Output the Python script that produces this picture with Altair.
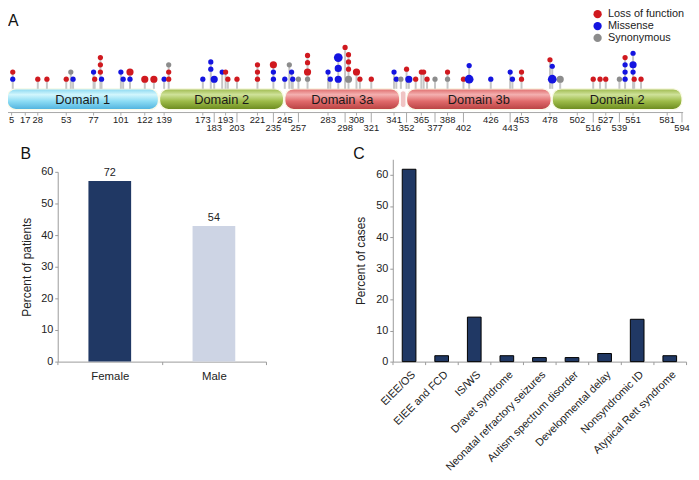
import altair as alt
import pandas as pd

# ---------------- Panel A: protein domains and variants ----------------
dom_name = ["Domain 1", "Domain 2", "Domain 3a", "Domain 3b", "Domain 2"]
dom_start = [1, 135, 245, 352, 480]
dom_end = [134, 244, 346, 479, 594]
dom_kind = ["d1", "d2", "d3", "d3", "d2"]
link_start = [346.5]
link_end = [351.5]

tick_upper = [5, 17, 28, 53, 77, 101, 122, 139, 173, 193, 221, 245, 283, 308, 341,
              365, 388, 426, 453, 478, 502, 527, 551, 581]
tick_lower = [183, 203, 235, 257, 298, 321, 352, 377, 402, 443, 516, 539, 594]

mut_pos = [6, 6, 28, 36, 53, 57, 59, 77, 78, 83, 83, 83, 84, 101, 103, 109, 109, 122, 130, 139,
           143, 143, 143, 173, 180, 180, 183, 190, 193, 195, 203, 221, 221, 221, 235, 235, 235, 245, 249, 251,
           252, 257, 265, 265, 265, 265, 283, 285, 292, 292, 292, 298, 301, 301, 301, 301, 308, 311, 321, 341,
           343, 347, 352, 354, 360, 365, 367, 370, 377, 388, 388, 402, 407, 407, 426, 443, 445, 453, 453, 478,
           480, 480, 487, 516, 522, 527, 539, 544, 544, 544, 544, 551, 551, 551, 552, 558]
mut_level = [1, 2, 1, 1, 1, 2, 1, 2, 1, 2, 3, 4, 1, 2, 1, 1, 2, 1, 1, 1,
             1, 2, 3, 1, 2.4, 3.4, 1, 2, 2, 1, 1, 1, 2, 3, 1, 2, 3, 1, 3, 2,
             1, 1, 1, 2, 3.3, 4.3, 2, 1, 1, 2.5, 4, 5.4, 1, 2.4, 3.4, 4.4, 2, 1, 1, 2,
             1, 1, 2.4, 1, 1, 2, 2, 1, 1, 1, 2, 1, 1, 2.9, 1, 2, 1, 1, 2, 3.7,
             1, 2.8, 1, 1, 1, 1, 1, 1, 2, 3, 4, 2, 3, 4.6, 1, 1]
mut_type = ["M", "L", "L", "L", "L", "S", "M", "M", "L", "L", "L", "L", "M", "M", "M", "M", "L", "L", "L", "M",
            "L", "L", "S", "M", "M", "M", "M", "M", "L", "L", "L", "L", "L", "L", "M", "M", "L", "M", "S", "M",
            "M", "S", "S", "L", "L", "L", "M", "M", "M", "M", "M", "L", "S", "L", "L", "L", "L", "L", "L", "M",
            "M", "S", "L", "M", "L", "L", "L", "L", "S", "S", "L", "L", "M", "M", "M", "M", "M", "L", "L", "L",
            "M", "M", "S", "L", "L", "L", "S", "M", "M", "M", "L", "M", "M", "M", "L", "L"]
mut_n = [1, 1, 1, 1, 1, 1, 1, 1, 1, 1, 1, 1, 1, 1, 1, 1, 2, 2, 2, 1,
         1, 1, 1, 1, 1, 1, 2, 1, 1, 1, 1, 1, 1, 1, 1, 1, 2, 1, 1, 1,
         1, 1, 1, 2, 1, 1, 1, 1, 2, 2, 3, 1, 2, 1, 1, 1, 2, 1, 1, 1,
         1, 1, 1, 2, 1, 1, 1, 1, 1, 1, 1, 1, 3, 1, 1, 1, 1, 1, 1, 1,
         3, 1, 2, 1, 1, 1, 1, 1, 1, 1, 1, 1, 2, 1, 1, 1]
type_names = {"L": "Loss of function", "M": "Missense", "S": "Synonymous"}
type_order = ["Loss of function", "Missense", "Synonymous"]
type_colors = ["#d0191f", "#1414e0", "#8c8c8c"]

# ---------------- Panel B ----------------
sex = ["Female", "Male"]
sex_pct = [57.1, 42.9]
sex_n = [72, 54]

# ---------------- Panel C ----------------
pheno = ["EIEE/OS", "EIEE and FCD", "IS/WS", "Dravet syndrome", "Neonatal refractory seizures",
         "Autism spectrum disorder", "Developmental delay", "Nonsyndromic ID", "Atypical Rett syndrome"]
pheno_pct = [61.8, 1.9, 14.3, 1.9, 1.3, 1.3, 2.6, 13.6, 1.9]

FONT = "Liberation Sans"
W, H = 691, 472

# vertical layout of panel A (pixels inside the view)
TR_TOP, TR_BOT = 79, 100
AX_Y = 103

# ---------- Panel A layers ----------
dom_df = pd.DataFrame({"name": dom_name, "start": dom_start, "end": dom_end, "kind": dom_kind})
link_df = pd.DataFrame({"start": link_start, "end": link_end})
axis_df = pd.DataFrame({"start": [dom_start[0]], "end": [dom_end[-1] + 1]})
up_df = pd.DataFrame({"pos": tick_upper})
low_df = pd.DataFrame({"pos": tick_lower})
mut_df = pd.DataFrame({"pos": mut_pos, "level": mut_level,
                       "type": [type_names[t] for t in mut_type], "n": mut_n})

xA = alt.Scale(domain=[0, 600], range=[-2.1, 688.8], nice=False, zero=False)
yA = alt.Scale(domain=[1, 6], range=[69.3, 32.8], nice=False, zero=False)

grad_stops = {
    "d1": [(0, "#86d6f0"), (0.28, "#d2f6fd"), (0.6, "#8cdcf4"), (1, "#4fb2de")],
    "d2": [(0, "#9cb84a"), (0.28, "#cfe29a"), (0.6, "#9dbb48"), (1, "#6b8a1e")],
    "d3": [(0, "#de6a6a"), (0.28, "#f4b0b0"), (0.6, "#e06a6a"), (1, "#b84242")],
}


def track(kind):
    g = alt.Gradient(gradient="linear", x1=0, x2=0, y1=0, y2=1,
                     stops=[alt.GradientStop(offset=o, color=c) for o, c in grad_stops[kind]])
    return alt.Chart(dom_df).transform_filter(alt.datum.kind == kind).mark_rect(
        fill=g, cornerRadius=9, stroke="#fbfbe8", strokeWidth=1.2
    ).encode(x=alt.X("start:Q", scale=xA, axis=None), x2="end:Q",
             y=alt.value(TR_TOP), y2=alt.value(TR_BOT))


link = alt.Chart(link_df).mark_rect(fill="#f0c4c4", cornerRadius=3, stroke="#ffffff", strokeWidth=1).encode(
    x=alt.X("start:Q", scale=xA, axis=None), x2="end:Q", y=alt.value(TR_TOP + 2), y2=alt.value(TR_BOT - 2))

dom_labels = alt.Chart(dom_df).transform_calculate(mid="(datum.start + datum.end) / 2").mark_text(
    font=FONT, fontSize=13, color="#1a1a1a", baseline="middle"
).encode(x=alt.X("mid:Q", scale=xA, axis=None), y=alt.value(90), text="name:N")

axis_line = alt.Chart(axis_df).mark_rule(color="#a8a8a8", strokeWidth=1).encode(
    x=alt.X("start:Q", scale=xA, axis=None), x2="end:Q", y=alt.value(AX_Y))

ticks_up = alt.Chart(up_df).mark_rule(color="#a8a8a8", strokeWidth=1).encode(
    x=alt.X("pos:Q", scale=xA, axis=None), y=alt.value(AX_Y), y2=alt.value(AX_Y + 3))
ticks_low = alt.Chart(low_df).mark_rule(color="#a8a8a8", strokeWidth=1).encode(
    x=alt.X("pos:Q", scale=xA, axis=None), y=alt.value(AX_Y), y2=alt.value(AX_Y + 10))
lab_up = alt.Chart(up_df).mark_text(font=FONT, fontSize=9.5, color="#222", baseline="middle").encode(
    x=alt.X("pos:Q", scale=xA, axis=None), y=alt.value(AX_Y + 7.5), text="pos:Q")
lab_low = alt.Chart(low_df).mark_text(font=FONT, fontSize=9.5, color="#222", baseline="middle").encode(
    x=alt.X("pos:Q", scale=xA, axis=None), y=alt.value(AX_Y + 15.5), text="pos:Q")

stems = alt.Chart(mut_df).mark_rule(color="#c6c6c6", strokeWidth=2).encode(
    x=alt.X("pos:Q", scale=xA, axis=None),
    y=alt.Y("max(level):Q", scale=yA, axis=None),
    y2=alt.value(TR_TOP))

dots = alt.Chart(mut_df).mark_circle(opacity=1).encode(
    x=alt.X("pos:Q", scale=xA, axis=None),
    y=alt.Y("level:Q", scale=yA, axis=None),
    color=alt.Color("type:N", scale=alt.Scale(domain=type_order, range=type_colors),
                    legend=alt.Legend(orient="none", legendX=591, legendY=-2, title=None,
                                      symbolType="circle", symbolSize=70, symbolOpacity=1,
                                      symbolStrokeWidth=0, labelFont=FONT, labelFontSize=11,
                                      labelColor="#222", rowPadding=0, labelOffset=5, padding=0)),
    size=alt.Size("n:Q", scale=alt.Scale(domain=[1, 3], range=[28, 78]), legend=None),
    order=alt.Order("n:Q"))

panelA = alt.layer(track("d1"), track("d2"), track("d3"), link, dom_labels, axis_line,
                   ticks_up, ticks_low, lab_up, lab_low, stems, dots)

# ---------- Panel B ----------
b_df = pd.DataFrame({"sex": sex, "pct": sex_pct, "n": sex_n})
xB = alt.Scale(domain=sex, range=[50.3, 261], paddingInner=0, paddingOuter=0)
yB = alt.Scale(domain=[0, 60], range=[355, 163], nice=False, zero=True)
baseB = alt.Chart(b_df).encode(
    x=alt.X("sex:N", scale=xB, sort=sex,
            axis=alt.Axis(orient="bottom", offset=-117, title=None, labelAngle=0,
                          tickBand="extent", labelPadding=6, labelFontSize=11.5)),
    y=alt.Y("pct:Q", scale=yB,
            axis=alt.Axis(orient="left", offset=-50.3, values=[0, 10, 20, 30, 40, 50, 60],
                          title="Percent of patients", titlePadding=7)))
barsB = baseB.mark_bar(width=alt.RelativeBandSize(0.41)).encode(
    color=alt.Color("sex:N", scale=alt.Scale(domain=sex, range=["#203864", "#cdd4e4"]), legend=None))
textB = baseB.mark_text(baseline="bottom", dy=-3, font=FONT, fontSize=11, color="#222").encode(text="n:Q")
panelB = alt.layer(barsB, textB)

# ---------- Panel C ----------
c_df = pd.DataFrame({"pheno": pheno, "pct": pheno_pct})
xC = alt.Scale(domain=pheno, range=[389.3, 686], paddingInner=0, paddingOuter=0)
yC = alt.Scale(domain=[0, 65], range=[355, 150.3], nice=False, zero=True)
panelC = alt.Chart(c_df).mark_bar(width=alt.RelativeBandSize(0.42), color="#203864",
                                   stroke="#000000", strokeWidth=1).encode(
    x=alt.X("pheno:N", scale=xC, sort=pheno,
            axis=alt.Axis(orient="bottom", offset=-117, title=None, labelAngle=-45,
                          labelAlign="right", labelBaseline="top", tickBand="extent",
                          labelPadding=4)),
    y=alt.Y("pct:Q", scale=yC,
            axis=alt.Axis(orient="left", offset=-389.3, values=[0, 10, 20, 30, 40, 50, 60],
                          title="Percent of cases", titlePadding=8)))

# ---------- panel letters ----------
letter_df = pd.DataFrame({"t": ["A"]})
letterA = alt.Chart(letter_df).mark_text(font=FONT, fontSize=16, color="#111", baseline="middle",
                                          align="left").encode(
    x=alt.value(0), y=alt.value(10), text="t:N")
letterB = alt.Chart(letter_df).mark_text(font=FONT, fontSize=16, color="#111", baseline="middle").encode(
    x=alt.value(18), y=alt.value(145), text=alt.value("B"))
letterC = alt.Chart(letter_df).mark_text(font=FONT, fontSize=16, color="#111", baseline="middle").encode(
    x=alt.value(355), y=alt.value(145), text=alt.value("C"))

chart = alt.layer(panelA, panelB, panelC, letterA, letterB, letterC).resolve_scale(
    x="independent", y="independent", color="independent", size="independent"
).resolve_axis(x="independent", y="independent").properties(
    width=W, height=H, padding=0, autosize=alt.AutoSizeParams(type="none"), background="white"
).configure_view(stroke=None).configure_axis(
    grid=False, labelFont=FONT, labelFontSize=11, labelColor="#222", titleFont=FONT,
    titleFontSize=12, titleFontWeight="normal", titleColor="#222", domainColor="#9a9a9a",
    tickColor="#9a9a9a", tickSize=3, labelPadding=2)

chart.save("out.html", embed_options={"renderer": "svg", "actions": False})
